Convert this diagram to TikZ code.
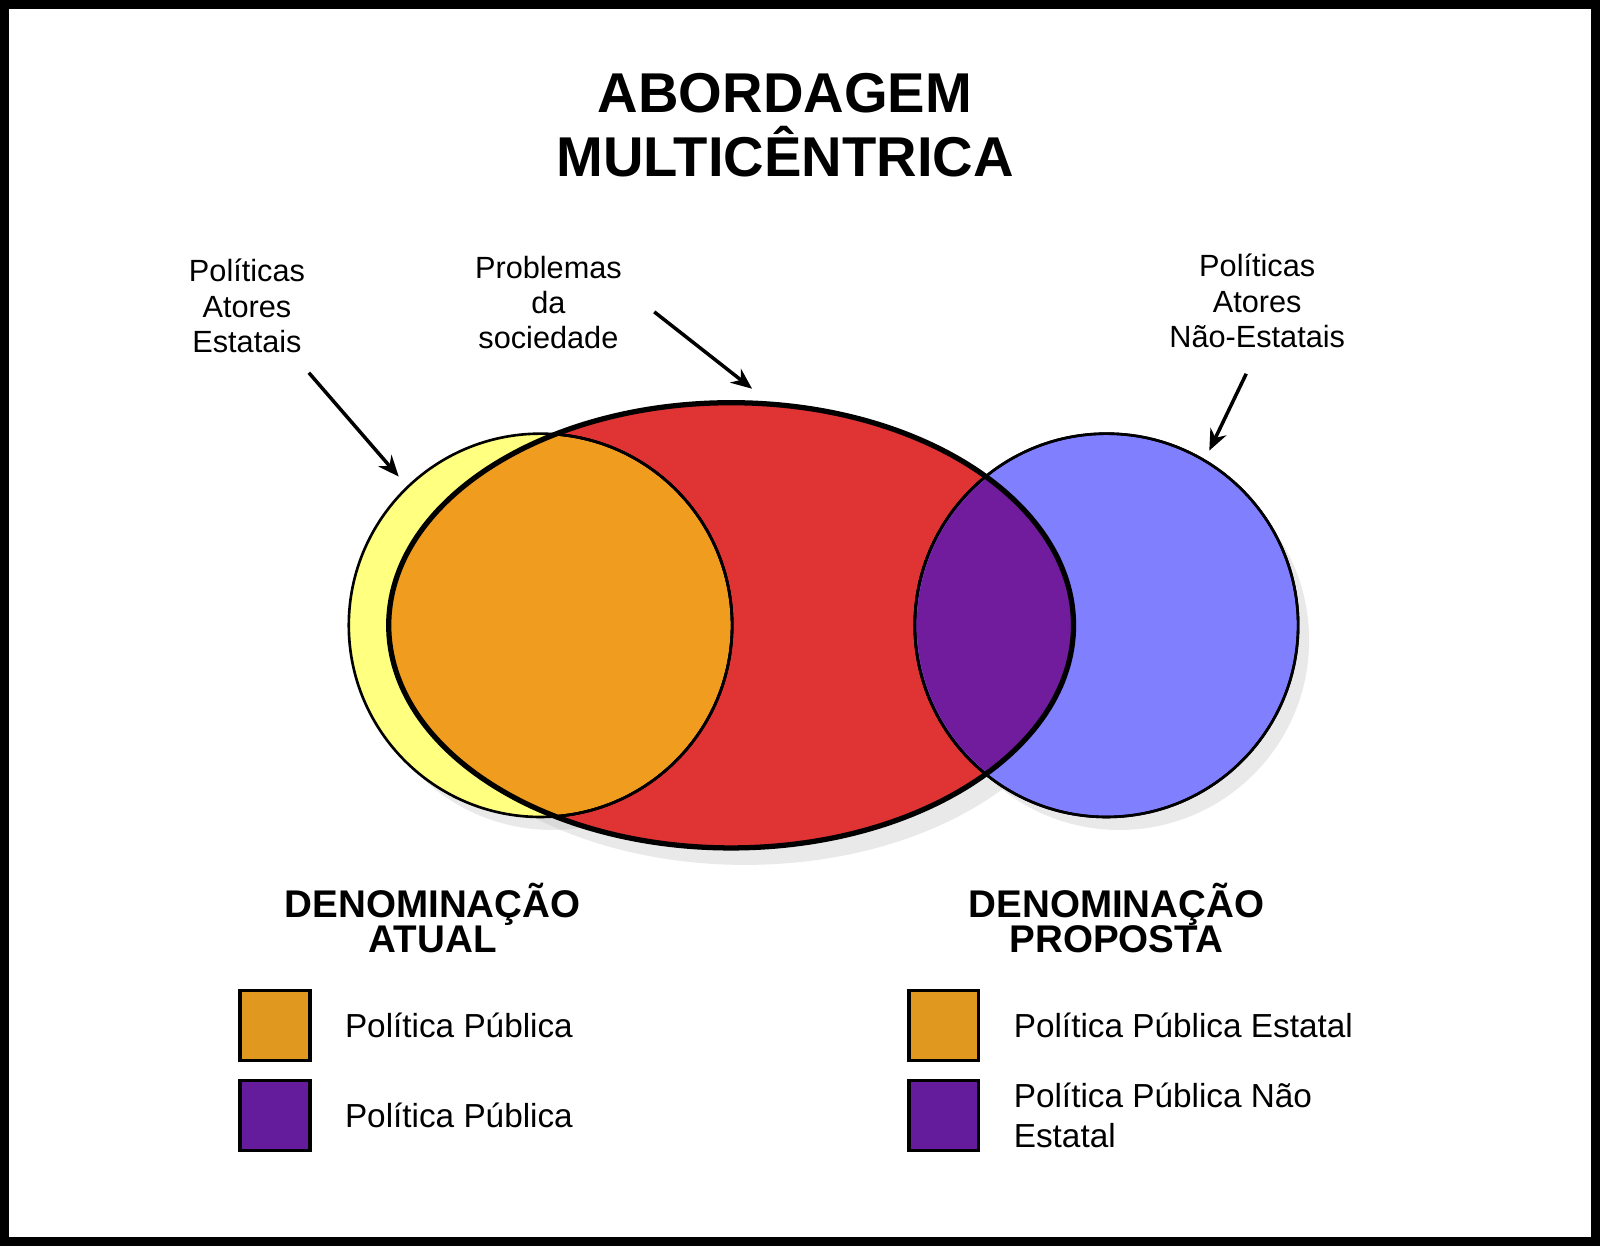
\documentclass[tikz,border=0pt]{standalone}
\usepackage{fontspec}
\setmainfont{Liberation Sans}
\usetikzlibrary{arrows.meta,positioning}
\definecolor{cyellow}{HTML}{FFFF80}
\definecolor{corange}{HTML}{F09C1E}
\definecolor{cred}{HTML}{E03434}
\definecolor{cblue}{HTML}{8080FF}
\definecolor{cpurple}{HTML}{701C9C}
\definecolor{lorange}{HTML}{E0981E}
\definecolor{lpurple}{HTML}{641C9C}
\tikzset{
    label text/.style={align=center,font=\fontsize{17.5}{20}\selectfont},
    head text/.style={align=center,font=\bfseries\fontsize{22}{20}\selectfont},
    legend text/.style={anchor=west,align=left,font=\fontsize{19}{20}\selectfont},
    legend box/.style={draw=black,line width=2pt,minimum size=1.4cm},
    arr/.style={-{Stealth[length=12pt,width=10pt]},line width=2pt},
    shade/.style={fill=black!25,opacity=.35},
}
\begin{document}
\begin{tikzpicture}[x=0.02cm,y=-0.02cm]
    \draw[line width=5pt] (3,3) rectangle (1597,1242);
    \useasboundingbox (0,0) rectangle (1600,1245);
    % shadows
    \fill[shade] (1120,640) circle (190);
    \fill[shade] (745,642) ellipse (343 and 223);
    \fill[shade] (552,640) circle (190);
    % sets
    \fill[cyellow] (540,625) circle (192);
    \fill[cred] (731,625) ellipse (343 and 223);
    \fill[cblue] (1107,625) circle (192);
    \begin{scope}
        \clip (731,625) ellipse (343 and 223);
        \fill[corange] (540,625) circle (192);
        \fill[cpurple] (1107,625) circle (192);
        \draw[line width=1.5pt] (540,625) circle (192);
        \draw[line width=1.5pt] (1107,625) circle (192);
    \end{scope}
    \draw[line width=1.5pt] (540,625) circle (192);
    \draw[line width=1.5pt] (1107,625) circle (192);
    \begin{scope}
        \clip (0,0) rectangle (1600,1245);
        \fill[cblue] (1107,625) circle (190);
        \clip (731,625) ellipse (343 and 223);
        \fill[cpurple] (1107,625) circle (190);
    \end{scope}
    \draw[line width=1.5pt] (1107,625) circle (192);
    \begin{scope}
        \clip (731,625) ellipse (343 and 223);
        \draw[line width=1.5pt] (540,625) circle (192);
    \end{scope}
    \draw[line width=3pt] (731,625) ellipse (343 and 223);
    % texts
    \node[head text,font=\bfseries\fontsize{32}{36}\selectfont] (title) at (785,124) {ABORDAGEM\\MULTICÊNTRICA};
    \node[label text] (estatais) at (246,305) {Políticas\\Atores\\Estatais};
    \node[label text] (problemas) at (548,302) {Problemas\\da\\sociedade};
    \node[label text] (naoestatais) at (1258,300) {Políticas\\Atores\\Não-Estatais};
    \coordinate (tipA) at (398,476);
    \coordinate (tipB) at (752,388);
    \coordinate (tipC) at (1210,450);
    \draw[arr] (308,372) -- (tipA);
    \draw[arr] (654,311) -- (tipB);
    \draw[arr] (1247,373) -- (tipC);
    % legend
    \node[head text] (atual) at (432,918) {DENOMINAÇÃO\\ATUAL};
    \node[head text] (proposta) at (1117,918) {DENOMINAÇÃO\\PROPOSTA};
    \node[legend box,fill=lorange] (boxA) at (274,1026) {};
    \node[legend box,fill=lpurple] (boxB) at (274,1116) {};
    \node[legend box,fill=lorange] (boxC) at (944,1026) {};
    \node[legend box,fill=lpurple] (boxD) at (944,1116) {};
    \node[legend text] (txtA) at (338,1026) {Política Pública};
    \node[legend text] (txtB) at (338,1116) {Política Pública};
    \node[legend text] (txtC) at (1008,1026) {Política Pública Estatal};
    \node[legend text,font=\fontsize{19}{23}\selectfont] (txtD) at (1008,1116) {Política Pública Não\\Estatal};
\end{tikzpicture}
\end{document}
